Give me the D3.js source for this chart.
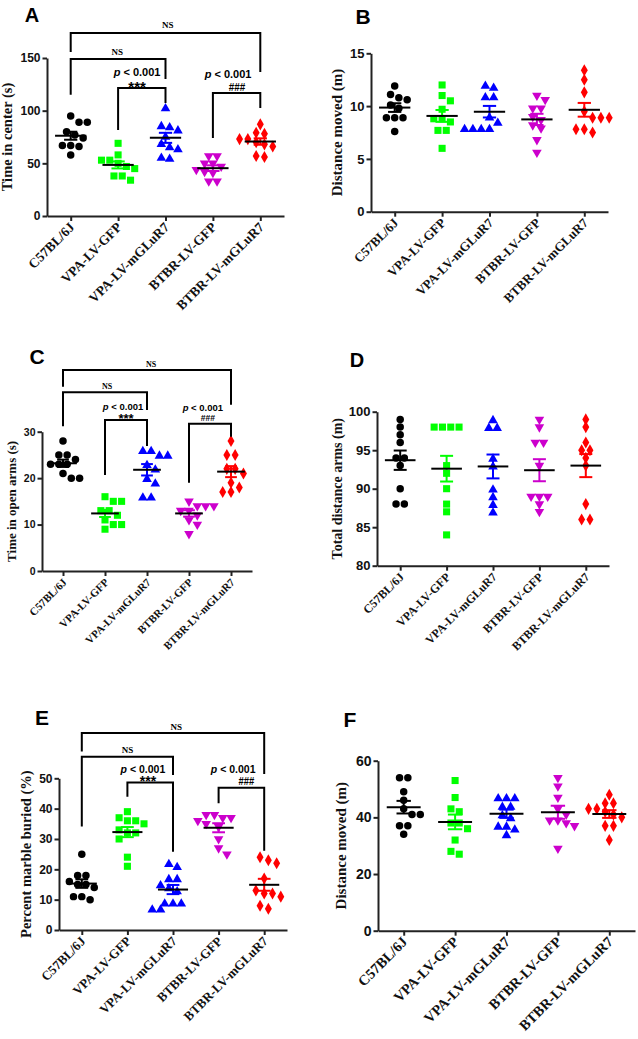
<!DOCTYPE html>
<html><head><meta charset="utf-8">
<script src="https://cdn.jsdelivr.net/npm/d3@7"></script>
<style>body{margin:0;background:#fff} svg{display:block}</style>
</head><body>
<svg id="chart" width="638" height="1039"></svg>
<script>
// ---------- DATA ----------
const categories = ["C57BL/6J", "VPA-LV-GFP", "VPA-LV-mGLuR7", "BTBR-LV-GFP", "BTBR-LV-mGLuR7"];
const groupColors = ["#000000", "#00ff00", "#0000ff", "#cc00cc", "#ff0000"];
const groupSymbols = ["circle", "square", "triangle", "triangleDown", "diamond"];

// A: Time in center (s)
const timeInCenter = [
  [95, 89, 89, 80, 77, 74, 67, 67, 66, 58],
  [69, 58, 53, 53, 50, 47, 45, 38, 38, 34],
  [103, 86, 85, 82, 76, 69, 66, 64, 56, 55],
  [57, 57, 50, 50, 47, 44, 42, 41, 33, 33],
  [87, 79, 78, 73, 73, 70, 68, 66, 57, 56]
];
const ticksA = [0, 50, 100, 150];
const bracketsA = [
  {a: 0, b: 4, top: 173.7, endA: 155.7, endB: 136.7},
  {a: 0, b: 2, top: 149, endA: 115, endB: 130},
  {a: 1, b: 2, top: 121.5, endA: 81.6, endB: 107.3},
  {a: 3, b: 4, top: 116.8, endA: 74, endB: 102.5}
];
const labelsA = [
  {text: "NS", at: 2.05, v: 178.5, kind: "ns"},
  {text: "NS", at: 0.98, v: 152.9, kind: "ns"},
  {text: "p < 0.001", at: 1.4, v: 132.9, kind: "p"},
  {text: "***", at: 1.4, v: 117.7, kind: "star"},
  {text: "p < 0.001", at: 3.32, v: 131, kind: "p"},
  {text: "###", at: 3.51, v: 119, kind: "hash"}
];

// B: Distance moved (m)
const distanceMovedB = [
  [11.9, 11.1, 10.8, 10.6, 10.1, 9.8, 8.9, 8.9, 8.9, 7.6],
  [12.0, 11.0, 10.5, 9.7, 8.8, 8.8, 8.5, 7.7, 7.7, 6.0],
  [12.0, 11.8, 10.9, 10.9, 9.0, 8.5, 7.9, 7.9, 7.9, 7.9],
  [11.0, 10.6, 9.8, 9.8, 9.0, 8.7, 8.2, 7.9, 6.8, 5.6],
  [13.4, 12.5, 11.3, 9.5, 8.9, 8.9, 8.9, 7.8, 7.8, 7.5]
];
const ticksB = [0, 5, 10, 15];

// C: Time in open arms (s)
const timeOpenArms = [
  [28, 25, 25, 24, 23, 23, 23, 21, 20, 20],
  [16, 15, 15, 13, 13, 12, 11, 10, 10, 9],
  [26, 26, 25, 25, 23, 22, 20, 19, 16, 16],
  [15, 14, 14, 14, 13, 13, 12, 11, 10, 8],
  [28, 25, 25, 22, 22, 21, 19, 18, 17, 17]
];
const ticksC = [0, 10, 20, 30];
const bracketsC = [
  {a: 0, b: 4, top: 43.3, endA: 39.7, endB: 35.8},
  {a: 0, b: 2, top: 38.5, endA: 31.2, endB: 34.7},
  {a: 1, b: 2, top: 32.5, endA: 20.7, endB: 26.9},
  {a: 3, b: 4, top: 31.7, endA: 19, endB: 28.9}
];
const labelsC = [
  {text: "NS", at: 2.1, v: 43.9, kind: "ns"},
  {text: "NS", at: 1.05, v: 39.2, kind: "ns"},
  {text: "p < 0.001", at: 1.43, v: 34.7, kind: "p"},
  {text: "***", at: 1.5, v: 31.9, kind: "star"},
  {text: "p < 0.001", at: 3.33, v: 34.5, kind: "p"},
  {text: "###", at: 3.45, v: 32.2, kind: "hash"}
];

// D: Total distance arms (m)
const totalDistanceArms = [
  [99, 98, 97, 96, 94, 94, 93, 90, 88, 88],
  [98, 98, 98, 98, 93, 92, 90, 88, 87, 84],
  [99, 98, 98, 94, 93, 90, 89, 88, 87],
  [99, 98, 96, 96, 93, 89, 89, 89, 88, 87],
  [99, 98, 96, 95, 95, 94, 93, 88, 86, 86]
];
const ticksD = [80, 85, 90, 95, 100];

// E: Percent marble buried (%)
const marbleBuried = [
  [25, 18, 18, 16, 15, 15, 14, 11, 11, 10],
  [39, 37, 36, 36, 35, 33, 32, 32, 30, 24, 21],
  [22, 21, 17, 17, 15, 14, 13, 9, 9, 9, 7, 7],
  [38, 38, 37, 37, 36, 35, 34, 30, 27, 25],
  [24, 23, 22, 17, 13, 12, 12, 11, 8, 7]
];
const ticksE = [0, 10, 20, 30, 40, 50];
const bracketsE = [
  {a: 0, b: 4, top: 64.9, endA: 58.8, endB: 51.4},
  {a: 0, b: 2, top: 57.1, endA: 34.1, endB: 51.1},
  {a: 1, b: 2, top: 48.6, endA: 43.9, endB: 25.8},
  {a: 3, b: 4, top: 46.9, endA: 41.8, endB: 26.1}
];
const labelsE = [
  {text: "NS", at: 2.07, v: 66, kind: "ns"},
  {text: "NS", at: 1.0, v: 58.4, kind: "ns"},
  {text: "p < 0.001", at: 1.34, v: 51.9, kind: "p"},
  {text: "***", at: 1.45, v: 47.5, kind: "star"},
  {text: "p < 0.001", at: 3.32, v: 51.7, kind: "p"},
  {text: "###", at: 3.61, v: 47.8, kind: "hash"}
];

// F: Distance moved (m)
const distanceMovedF = [
  [54, 54, 49, 46, 43, 41, 41, 37, 37, 34],
  [53, 47, 43, 42, 38, 38, 36, 32, 28, 27],
  [47, 47, 47, 44, 44, 41, 40, 37, 37, 36, 34],
  [54, 51, 47, 43, 41, 39, 39, 38, 37, 29],
  [48, 45, 45, 43, 43, 42, 41, 40, 37, 37, 32]
];
const ticksF = [0, 20, 40, 60];

// ---------- LAYOUT ----------
const panels = [
  {letter: "A", lx: 32, ly: 22, data: timeInCenter, ticks: ticksA, domain: [0, 150], title: "Time in center (s)",
   x0: 47, xRight: 284, yTop: 58, yBot: 216, titleX: 11.5,
   fs: {tick: 12, cat: 13.5, title: 14.5, p: 11, ns: 9, star: 15, hash: 11, letter: 20},
   brackets: bracketsA, labels: labelsA},
  {letter: "B", lx: 363, ly: 24, data: distanceMovedB, ticks: ticksB, domain: [0, 15], title: "Distance moved (m)",
   x0: 371, xRight: 608, yTop: 53.3, yBot: 211.7, titleX: 342, fs: {tick: 13, cat: 13, title: 15, letter: 21}},
  {letter: "C", lx: 37, ly: 364, data: timeOpenArms, ticks: ticksC, domain: [0, 30], title: "Time in open arms (s)",
   x0: 42, xRight: 252, yTop: 431.7, yBot: 571, titleX: 16,
   fs: {tick: 10.5, cat: 11, title: 13, p: 9.5, ns: 8, star: 13, hash: 9.5, letter: 21},
   brackets: bracketsC, labels: labelsC},
  {letter: "D", lx: 357, ly: 367, data: totalDistanceArms, ticks: ticksD, domain: [80, 100], title: "Total distance arms (m)",
   x0: 377, xRight: 609, yTop: 411.7, yBot: 565.7, titleX: 342, fs: {tick: 13, cat: 12, title: 14, letter: 20}},
  {letter: "E", lx: 42, ly: 725, data: marbleBuried, ticks: ticksE, domain: [0, 50], title: "Percent marble buried (%)",
   x0: 59, xRight: 287, yTop: 778.3, yBot: 930, titleX: 31,
   fs: {tick: 12, cat: 13, title: 14.5, p: 10.5, ns: 9, star: 14, hash: 10.5, letter: 21},
   brackets: bracketsE, labels: labelsE},
  {letter: "F", lx: 350, ly: 727, data: distanceMovedF, ticks: ticksF, domain: [0, 60], title: "Distance moved (m)",
   x0: 378, xRight: 635, yTop: 760.7, yBot: 930.7, titleX: 346, fs: {tick: 14, cat: 14.5, title: 15, letter: 21}}
];

const SANS = "'Liberation Sans', Arial, sans-serif";
const SERIF = "'Liberation Serif', 'Times New Roman', serif";
const svg = d3.select("#chart");
svg.append("rect").attr("width", 638).attr("height", 1039).attr("fill", "#fff");

const symbolTypes = {
  circle: d3.symbolCircle, square: d3.symbolSquare, triangle: d3.symbolTriangle,
  triangleDown: d3.symbolTriangle, diamond: d3.symbolDiamond
};
const symbolSizes = {circle: 44, square: 50, triangle: 40, triangleDown: 40, diamond: 42};

function swarm(values, y, step) {
  const order = values.map((v, i) => i).sort((a, b) => values[b] - values[a]);
  const out = new Array(values.length);
  const placed = [];
  let i = 0;
  while (i < order.length) {
    const row = [order[i]];
    const y0 = y(values[order[i]]);
    let j = i + 1;
    while (j < order.length && Math.abs(y(values[order[j]]) - y0) < 3.5) { row.push(order[j]); j++; }
    const k = row.length;
    const tries = [0, 0.5, -0.5, 1, -1, 1.5, -1.5, 2, -2];
    let shift = 0;
    for (const t of tries) {
      shift = t * step;
      const ok = row.every((r, m) => {
        const ox = (m - (k - 1) / 2) * step + shift;
        const oy = y(values[r]);
        return placed.every(p => Math.abs(p.x - ox) >= step * 0.8 || Math.abs(p.y - oy) >= 6.5);
      });
      if (ok) break;
    }
    row.forEach((r, m) => {
      const ox = (m - (k - 1) / 2) * step + shift;
      out[r] = ox;
      placed.push({x: ox, y: y(values[r])});
    });
    i = j;
  }
  return out;
}

function drawPanel(p) {
  const g = svg.append("g");
  const x = d3.scalePoint().domain(categories).range([p.x0, p.xRight]).padding(0.5);
  const y = d3.scaleLinear().domain(p.domain).range([p.yBot, p.yTop]);
  const band = x.step();
  const catX = f => p.x0 + (f + 0.5) * band;

  g.append("text").attr("x", p.lx).attr("y", p.ly).attr("text-anchor", "middle")
    .attr("font-family", SANS).attr("font-weight", "bold").attr("font-size", p.fs.letter).text(p.letter);

  const ya = g.append("g").attr("transform", `translate(${p.x0},0)`)
    .call(d3.axisLeft(y).tickValues(p.ticks).tickSize(4.5).tickSizeOuter(0).tickPadding(2).tickFormat(d3.format("d")));
  ya.select(".domain").attr("stroke", "#222").attr("stroke-width", 2);
  ya.selectAll(".tick line").attr("stroke", "#222").attr("stroke-width", 2);
  ya.selectAll(".tick text").attr("font-family", SANS).attr("font-weight", "bold")
    .attr("font-size", p.fs.tick).attr("fill", "#111");

  const xa = g.append("g").attr("transform", `translate(0,${p.yBot})`)
    .call(d3.axisBottom(x).tickSize(5).tickSizeOuter(0));
  xa.select(".domain").attr("stroke", "#222").attr("stroke-width", 2);
  xa.selectAll(".tick line").attr("stroke", "#222").attr("stroke-width", 2);
  xa.selectAll(".tick text").attr("font-family", SERIF).attr("font-weight", "bold")
    .attr("font-size", p.fs.cat).attr("fill", "#111")
    .attr("x", 0).attr("y", 0).attr("dy", 0)
    .attr("text-anchor", "end")
    .attr("transform", "translate(4,12) rotate(-45)");

  g.append("text")
    .attr("transform", `translate(${p.titleX},${(p.yTop + p.yBot) / 2}) rotate(-90)`)
    .attr("text-anchor", "middle").attr("font-family", SERIF).attr("font-weight", "bold")
    .attr("font-size", p.fs.title).attr("fill", "#111").text(p.title);

  p.data.forEach((vals, gi) => {
    const cx = x(categories[gi]);
    const offs = swarm(vals, y, 8.3);
    const symName = groupSymbols[gi];
    const sym = d3.symbol().type(symbolTypes[symName]).size(symbolSizes[symName]);
    g.append("g").selectAll("path").data(vals).join("path")
      .attr("d", sym)
      .attr("transform", (d, i) => `translate(${cx + offs[i]},${y(d)})${symName === "triangleDown" ? " rotate(180)" : (symName === "triangle" ? " translate(0,1)" : "")}`)
      .attr("fill", groupColors[gi]);

    const m = d3.mean(vals);
    const sem = d3.deviation(vals) / Math.sqrt(vals.length);
    const cap = band * 0.14;
    const half = band * 0.33;
    const eg = g.append("g").attr("stroke", groupColors[gi]).attr("stroke-width", 2).attr("fill", "none");
    eg.append("line").attr("x1", cx).attr("x2", cx).attr("y1", y(m - sem)).attr("y2", y(m + sem));
    eg.append("line").attr("x1", cx - cap).attr("x2", cx + cap).attr("y1", y(m - sem)).attr("y2", y(m - sem));
    eg.append("line").attr("x1", cx - cap).attr("x2", cx + cap).attr("y1", y(m + sem)).attr("y2", y(m + sem));
    g.append("line").attr("x1", cx - half).attr("x2", cx + half).attr("y1", y(m)).attr("y2", y(m))
      .attr("stroke", "#000").attr("stroke-width", 2);
  });

  if (p.brackets) {
    g.append("g").selectAll("path").data(p.brackets).join("path")
      .attr("d", b => `M${catX(b.a)},${y(b.endA)}V${y(b.top)}H${catX(b.b)}V${y(b.endB)}`)
      .attr("fill", "none").attr("stroke", "#000").attr("stroke-width", 2);
  }
  if (p.labels) {
    p.labels.forEach(l => {
      const t = g.append("text").attr("x", catX(l.at)).attr("y", y(l.v)).attr("text-anchor", "middle").attr("fill", "#000");
      if (l.kind === "ns") {
        t.attr("font-family", SERIF).attr("font-weight", "bold").attr("font-size", p.fs.ns).text(l.text);
      } else if (l.kind === "p") {
        t.attr("font-family", SANS).attr("font-weight", "bold").attr("font-size", p.fs.p);
        t.append("tspan").attr("font-style", "italic").text(l.text.slice(0, 1));
        t.append("tspan").text(l.text.slice(1));
      } else if (l.kind === "star") {
        t.attr("font-family", SANS).attr("font-weight", "bold").attr("font-size", p.fs.star).text(l.text);
      } else {
        t.attr("font-family", SANS).attr("font-weight", "bold").attr("font-size", p.fs.hash)
          .attr("textLength", p.fs.hash * 1.5).attr("lengthAdjust", "spacingAndGlyphs").text(l.text);
      }
    });
  }
}

panels.forEach(drawPanel);
</script>
</body></html>
